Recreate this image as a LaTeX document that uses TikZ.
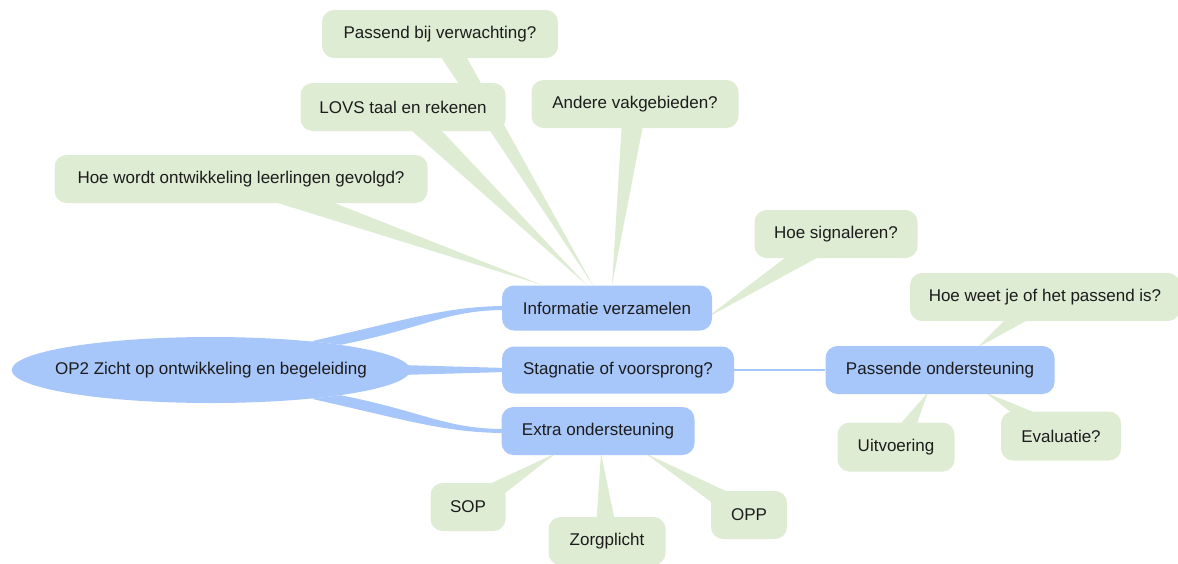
\documentclass[tikz,border=0pt]{standalone}
\usepackage{fontspec}
\setmainfont{Liberation Sans}
\usepackage{tikz}
\usetikzlibrary{calc}
\usetikzlibrary{shapes.geometric}
\usetikzlibrary{backgrounds}

\definecolor{mapblue}{RGB}{167,198,250}
\definecolor{mapgreen}{RGB}{223,236,212}
\definecolor{maptext}{RGB}{28,28,28}

\tikzset{
	topic/.style={rectangle, rounded corners=12pt, fill=mapblue, text=maptext, inner sep=0pt},
	idea/.style={rectangle, rounded corners=12pt, fill=mapgreen, text=maptext, inner sep=0pt},
	spikefill/.style={fill=mapgreen},
	branch/.style={fill=mapblue}
}

\newcommand{\spike}[2]{\fill[spikefill] ($(#1)!12pt!90:(#2)$) -- (#2) -- ($(#1)!12pt!-90:(#2)$) -- cycle;}

\begin{document}
\begin{tikzpicture}[x=1pt,y=-1pt,font=\fontsize{17}{20}\selectfont]
\useasboundingbox (0,0) rectangle (1178,563);

\node[ellipse, fill=mapblue, text=maptext, minimum width=398pt, minimum height=66pt, inner xsep=-15pt, inner ysep=0pt] (op) at (211,370) {OP2 Zicht op ontwikkeling en begeleiding};

\node[topic, minimum width=210pt, minimum height=45pt] (info) at (607,308) {Informatie verzamelen};
\node[topic, minimum width=232pt, minimum height=47pt] (stag) at (618,370) {Stagnatie of voorsprong?};
\node[topic, minimum width=193pt, minimum height=48pt] (extra) at (598,431) {Extra ondersteuning};
\node[topic, minimum width=229pt, minimum height=48pt] (passende) at (940,370) {Passende ondersteuning};

\node[idea, minimum width=373pt, minimum height=48pt] (hoewordt) at (241,179) {Hoe wordt ontwikkeling leerlingen gevolgd?};
\node[idea, minimum width=205pt, minimum height=48pt] (lovs) at (403,107) {LOVS taal en rekenen};
\node[idea, minimum width=236pt, minimum height=48pt] (passend) at (440,34) {Passend bij verwachting?};
\node[idea, minimum width=207pt, minimum height=48pt] (andere) at (635,104) {Andere vakgebieden?};
\node[idea, minimum width=163pt, minimum height=48pt] (signal) at (836,234) {Hoe signaleren?};

\node[idea, minimum width=270pt, minimum height=48pt] (hoeweet) at (1045,297) {Hoe weet je of het passend is?};
\node[idea, minimum width=117pt, minimum height=49pt] (uitv) at (896,447) {Uitvoering};
\node[idea, minimum width=120pt, minimum height=49pt] (evalu) at (1061,436) {Evaluatie?};

\node[idea, minimum width=75pt, minimum height=48pt] (sop) at (468,507) {SOP};
\node[idea, minimum width=117pt, minimum height=48pt] (zorg) at (607,541) {Zorgplicht};
\node[idea, minimum width=76pt, minimum height=48pt] (opp) at (749,515) {OPP};

% tips of the spikes
\coordinate (t1) at ($(info.north)+(-64,0)$);
\coordinate (t2) at ($(info.north)+(-20,0)$);
\coordinate (t3) at ($(info.north)+(-14,0)$);
\coordinate (t4) at ($(info.north)+(5,0)$);
\coordinate (t5) at ($(info.east)+(-6,10)$);
\coordinate (t6) at ($(passende.north)+(37,2)$);
\coordinate (t7) at ($(passende.south)+(-12,-2)$);
\coordinate (t8) at ($(passende.south)+(45,-2)$);
\coordinate (t9) at ($(extra.south)+(-42,-2)$);
\coordinate (t10) at ($(extra.south)+(3,-2)$);
\coordinate (t11) at ($(extra.south)+(47,-2)$);

\begin{scope}[on background layer]
\spike{hoewordt}{t1}
\spike{lovs}{t2}
\spike{passend}{t3}
\spike{andere}{t4}
\spike{signal}{t5}
\spike{hoeweet}{t6}
\spike{uitv}{t7}
\spike{evalu}{t8}
\spike{sop}{t9}
\spike{zorg}{t10}
\spike{opp}{t11}

\fill[branch] (op.16) .. controls +(90,-20) and +(-60,0) .. ($(info.west)+(4,-2)$) -- ($(info.west)+(4,2)$) .. controls +(-60,0) and +(85,-17) .. (op.11) -- cycle;
\fill[branch] ($(op.east)+(-10,-5)$) -- ($(stag.west)+(4,-2)$) -- ($(stag.west)+(4,2)$) -- ($(op.east)+(-10,5)$) -- cycle;
\fill[branch] (op.-16) .. controls +(90,20) and +(-60,0) .. ($(extra.west)+(4,2)$) -- ($(extra.west)+(4,-2)$) .. controls +(-60,0) and +(85,17) .. (op.-11) -- cycle;

\draw[mapblue, line width=2.5pt] (stag.east) -- (passende.west);
\end{scope}

\end{tikzpicture}
\end{document}
